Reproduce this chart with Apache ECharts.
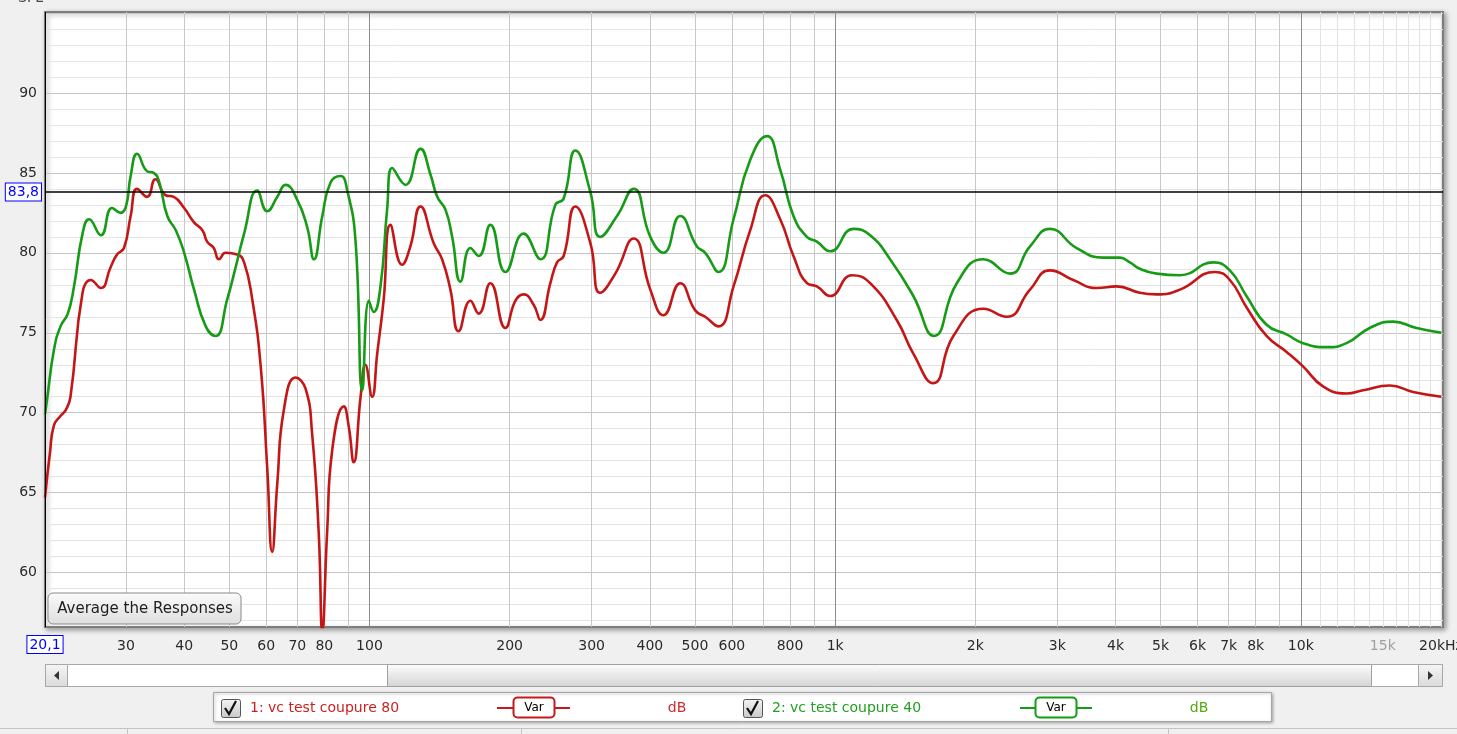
<!DOCTYPE html>
<html>
<head>
<meta charset="utf-8">
<script src="https://cdn.jsdelivr.net/npm/echarts@6/dist/echarts.min.js"></script>
<style>
html,body{margin:0;padding:0;background:#f0f0f0;}
#main{width:1457px;height:734px;}
</style>
</head>
<body>
<div id="main"></div>
<script>
// 1: vc test coupure 80 (red)
var redFreq = [20.1,20.6,21.0,21.7,22.3,22.8,24.2,25.2,26.5,27.8,28.7,29.7,30.7,31.7,33.3,34.7,36.5,38.0,40.0,42.0,
  43.8,44.8,46.3,47.5,49.1,52.0,53.8,56.0,58.4,60.3,61.8,63.4,65.5,69.4,72.9,75.3,77.8,79.2,81.1,83.2,
  88.1,90.3,92.5,95.7,98.0,101.3,103.9,107.3,110.9,117.5,122.4,128.7,137.4,143.2,149.2,155.4,164.7,171.6,181.8,195.8,
  205.7,214.3,225.2,232.8,244.6,252.8,261.2,276.8,298.1,313.1,337.2,369.2,400.9,428.0,464.9,500.7,526.0,561.7,605.1,656.9,
  707.6,762.1,813.8,869.8,913.7,975.7,1086,1189,1356,1472,1625,1794,2081,2336,2621,2893,3246,3644,4022,4512,
  4900,5501,6539,7041,7644,8442,9320,10110,11160,12540,13610,15520,17420,20040];
var redSpl = [64.7,67.5,69.2,69.8,70.2,71.0,77.5,78.3,77.8,79.1,79.9,80.3,82.3,84.0,83.5,84.6,83.6,83.5,82.8,81.9,
  81.4,80.7,80.3,79.6,80.0,79.9,79.4,77.1,72.9,66.6,61.3,65.6,70.2,72.2,71.5,68.7,62.5,56.3,62.5,67.7,
  70.4,69.1,66.9,71.0,73.0,71.0,73.7,77.1,81.75,79.25,80.4,82.9,80.6,79.6,77.7,75.1,77.0,76.2,78.1,75.3,
  77.0,77.4,76.75,75.8,78.1,79.4,79.8,82.9,80.6,77.5,78.7,80.9,77.7,76.1,78.1,76.4,76.0,75.4,77.9,81.4,
  83.6,82.1,79.8,78.1,77.9,77.3,78.6,78.1,75.8,73.7,71.85,74.8,76.5,76.0,77.7,78.9,78.3,77.8,77.9,77.5,
  77.4,77.7,78.8,78.3,76.6,74.8,73.8,72.9,71.65,71.2,71.4,71.7,71.3,71.0];

// 2: vc test coupure 40 (green)
var greenFreq = [20.1,20.3,21.0,21.7,22.5,23.2,24.2,25.0,26.5,28.0,29.2,30.0,30.7,31.7,33.3,34.4,35.3,36.8,38.4,40.0,
  42.0,44.5,46.7,49.5,51.6,53.8,57.4,60.3,63.4,66.0,70.0,73.5,76.0,79.2,82.5,86.7,89.6,93.3,96.5,99.7,
  102.1,105.6,109.1,111.9,119.5,128.7,135.2,139.8,145.6,150.5,156.8,164.7,171.6,181.8,195.8,214.3,232.8,250.7,261.2,276.8,
  298.1,313.1,340.0,369.2,400.9,428.0,464.9,504.9,526.0,561.7,605.1,656.9,713.5,762.1,813.8,869.8,913.7,975.7,1095,1189,
  1312,1472,1631,1825,2081,2374,2621,2893,3301,3765,4088,4295,4512,4901,5501,6484,7041,7644,8442,9320,
  10110,11360,12540,14060,15780,17720,20040];
var greenSpl = [69.9,70.8,73.9,75.4,76.2,77.9,81.2,82.1,81.1,82.8,82.5,82.9,84.8,86.2,85.1,85.0,84.5,82.3,81.4,80.0,
  77.7,75.4,74.8,77.1,79.1,81.2,83.9,82.6,83.5,84.25,83.3,81.6,79.6,82.3,84.4,84.8,83.9,80.8,71.4,77.0,
  76.3,77.9,82.7,85.3,84.25,86.5,84.9,83.5,82.7,81.0,78.2,80.3,79.8,81.75,78.8,81.2,79.6,83.0,83.4,86.4,
  83.8,81.0,82.3,84.0,81.0,80.0,82.3,80.4,80.0,78.8,82.1,85.8,87.3,85.2,82.3,81.0,80.7,80.1,81.5,81.1,
  79.6,77.3,74.8,78.1,79.6,78.7,80.4,81.5,80.3,79.7,79.7,79.4,79.0,78.7,78.6,79.4,78.9,77.3,75.5,74.9,
  74.35,74.1,74.35,75.3,75.7,75.3,75.0];

var yTicks = [60, 65, 70, 75, 80, 85, 90];
var xLabelValues = [30,40,50,60,70,80,100,200,300,400,500,600,800,1000,2000,3000,4000,5000,6000,7000,8000,10000,15000,20000];
var xLabelTexts = ['30','40','50','60','70','80','100','200','300','400','500','600','800','1k','2k','3k','4k','5k','6k','7k','8k','10k','15k','20kHz'];

var cursorLevel = 83.8;
var cursorFreq = 20.1;

var FONT = 'DejaVu Sans';

// grid lines
var gridLines = [];
for (var dB = 57; dB <= 95; dB++) {
  gridLines.push({yAxis: dB, lineStyle: {color: dB % 5 === 0 ? '#c4c4c4' : '#e4e4e4', width: 1, type: 'solid'}});
}
[10, 100, 1000].forEach(function (dec) {
  for (var m = 2; m <= 9; m++) {
    var f = m * dec;
    if (f < 20.1) continue;
    gridLines.push({xAxis: f, lineStyle: {color: '#c8c8c8', width: 1, type: 'solid'}});
  }
});
[100, 1000, 10000].forEach(function (f) {
  gridLines.push({xAxis: f, lineStyle: {color: '#8c8c8c', width: 1, type: 'solid'}});
});
for (var k = 11; k <= 20; k++) {
  gridLines.push({xAxis: k * 1000, lineStyle: {color: '#e2e2e2', width: 1, type: 'solid'}});
}

var xLabels = xLabelValues.map(function (v, i) {
  return {
    xAxis: v,
    lineStyle: {color: 'rgba(0,0,0,0)', width: 1, type: 'solid'},
    label: {
      show: true, position: 'start', distance: 12, formatter: xLabelTexts[i],
      color: v === 15000 ? '#a0a0a0' : '#2a2a2a', fontFamily: FONT, fontSize: 14
    }
  };
});

function toPairs(fr, sp) {
  return fr.map(function (f, i) { return [f, sp[i]]; });
}

var chart = echarts.init(document.getElementById('main'));

var grad = function (a, b) {
  return new echarts.graphic.LinearGradient(0, 0, 0, 1, [{offset: 0, color: a}, {offset: 1, color: b}]);
};

var option = {
  animation: false,
  backgroundColor: '#f0f0f0',
  grid: {
    left: 45, right: 14, top: 12, bottom: 107,
    show: true, backgroundColor: '#ffffff',
    borderColor: '#7d7d7d', borderWidth: 2,
    shadowColor: 'rgba(0,0,0,0.35)', shadowBlur: 5, shadowOffsetX: 2, shadowOffsetY: 2
  },
  xAxis: {
    type: 'log', logBase: 10, min: 20.1, max: 20200,
    axisLine: {show: false}, axisTick: {show: false}, axisLabel: {show: false}, splitLine: {show: false}
  },
  yAxis: {
    type: 'value', min: 56.6, max: 95.06,
    axisLine: {show: false}, axisTick: {show: false}, splitLine: {show: false},
    axisLabel: {customValues: yTicks, color: '#2a2a2a', fontFamily: FONT, fontSize: 14, margin: 8}
  },
  series: [
    {
      type: 'line', data: [], z: 1, silent: true,
      markLine: {z: 1, silent: true, symbol: ['none', 'none'], label: {show: false}, data: gridLines}
    },
    {
      type: 'line', data: [], z: 1, silent: true,
      markLine: {z: 1, silent: true, symbol: ['none', 'none'], data: xLabels}
    },
    {
      name: '1: vc test coupure 80', type: 'line', data: toPairs(redFreq, redSpl),
      smooth: 0.5, symbol: 'none', z: 10,
      lineStyle: {color: '#c41616', width: 2.6}
    },
    {
      name: '2: vc test coupure 40', type: 'line', data: toPairs(greenFreq, greenSpl),
      smooth: 0.5, symbol: 'none', z: 11,
      lineStyle: {color: '#169b16', width: 2.6}
    },
    {
      type: 'line', data: [], z: 12, silent: true,
      markLine: {
        z: 12, silent: true, symbol: ['none', 'none'],
        data: [
          {yAxis: cursorLevel, lineStyle: {color: '#000', width: 1.5, type: 'solid'},
           label: {show: true, position: 'start', distance: 4, formatter: '83,8', color: '#0000ff',
                   backgroundColor: '#fff', borderColor: '#0000ff', borderWidth: 1, padding: [2, 2, 1, 2],
                   fontFamily: FONT, fontSize: 14}},
          {xAxis: cursorFreq, lineStyle: {color: '#000', width: 1, type: 'solid'},
           label: {show: true, position: 'start', distance: 9, formatter: '20,1', color: '#0000ff',
                   backgroundColor: '#fff', borderColor: '#0000ff', borderWidth: 1, padding: [2, 2, 1, 2],
                   fontFamily: FONT, fontSize: 14}}
        ]
      }
    }
  ],
  graphic: [
    {type: 'text', left: 18, top: -9, style: {text: 'SPL', font: '14px ' + FONT, fill: '#444'}},
    // Average button
    {type: 'rect', z: 100, shape: {x: 48, y: 593, width: 193, height: 31, r: 5},
     style: {fill: grad('#fbfbfb', '#dedede'), stroke: '#8a8a8a', lineWidth: 1}},
    {type: 'text', z: 101, x: 145, y: 609,
     style: {text: 'Average the Responses', font: '15px ' + FONT, fill: '#1e1e1e', align: 'center', verticalAlign: 'middle'}},
    // scrollbar
    {type: 'rect', shape: {x: 45.5, y: 664.5, width: 1397, height: 22}, style: {fill: '#fff', stroke: '#a8a8a8'}},
    {type: 'rect', shape: {x: 45.5, y: 664.5, width: 22, height: 22}, style: {fill: grad('#f6f6f6', '#dadada'), stroke: '#a8a8a8'}},
    {type: 'polygon', shape: {points: [[59, 671], [59, 680], [54, 675.5]]}, style: {fill: '#333'}},
    {type: 'rect', shape: {x: 387.5, y: 664.5, width: 984, height: 22}, style: {fill: grad('#fdfdfd', '#d4d4d4'), stroke: '#a0a0a0'}},
    {type: 'rect', shape: {x: 1418.5, y: 664.5, width: 24, height: 22}, style: {fill: grad('#f6f6f6', '#dadada'), stroke: '#a8a8a8'}},
    {type: 'polygon', shape: {points: [[1428, 671], [1428, 680], [1433, 675.5]]}, style: {fill: '#333'}},
    // legend box
    {type: 'rect', shape: {x: 213.5, y: 692.5, width: 1058, height: 29},
     style: {fill: '#fff', stroke: '#a6a6a6', shadowColor: 'rgba(0,0,0,0.3)', shadowBlur: 3, shadowOffsetX: 1, shadowOffsetY: 1}},
    {type: 'rect', shape: {x: 221.5, y: 699.5, width: 19, height: 18, r: 2}, style: {fill: grad('#f4f4f4', '#c8c8c8'), stroke: '#555'}},
    {type: 'polyline', shape: {points: [[225, 708], [229, 714], [236, 701]]}, style: {stroke: '#111', lineWidth: 2.2, fill: null}},
    {type: 'text', x: 250, y: 708, style: {text: '1: vc test coupure 80', font: '14px ' + FONT, fill: '#cc1f1f', verticalAlign: 'middle'}},
    {type: 'line', shape: {x1: 497, y1: 708, x2: 570, y2: 708}, style: {stroke: '#c41a1a', lineWidth: 2}},
    {type: 'rect', shape: {x: 513.5, y: 697.5, width: 41, height: 20, r: 4}, style: {fill: '#fff', stroke: '#c41a1a', lineWidth: 2}},
    {type: 'text', x: 534, y: 708, style: {text: 'Var', font: '12px ' + FONT, fill: '#000', align: 'center', verticalAlign: 'middle'}},
    {type: 'text', x: 677, y: 708, style: {text: 'dB', font: '14px ' + FONT, fill: '#cc2a2a', align: 'center', verticalAlign: 'middle'}},
    {type: 'rect', shape: {x: 743.5, y: 699.5, width: 19, height: 18, r: 2}, style: {fill: grad('#f4f4f4', '#c8c8c8'), stroke: '#555'}},
    {type: 'polyline', shape: {points: [[747, 708], [751, 714], [758, 701]]}, style: {stroke: '#111', lineWidth: 2.2, fill: null}},
    {type: 'text', x: 772, y: 708, style: {text: '2: vc test coupure 40', font: '14px ' + FONT, fill: '#22a022', verticalAlign: 'middle'}},
    {type: 'line', shape: {x1: 1020, y1: 708, x2: 1092, y2: 708}, style: {stroke: '#169b16', lineWidth: 2}},
    {type: 'rect', shape: {x: 1035.5, y: 697.5, width: 41, height: 20, r: 4}, style: {fill: '#fff', stroke: '#169b16', lineWidth: 2}},
    {type: 'text', x: 1056, y: 708, style: {text: 'Var', font: '12px ' + FONT, fill: '#000', align: 'center', verticalAlign: 'middle'}},
    {type: 'text', x: 1199, y: 708, style: {text: 'dB', font: '14px ' + FONT, fill: '#52a810', align: 'center', verticalAlign: 'middle'}},
    // status bar
    {type: 'line', shape: {x1: 0, y1: 728.5, x2: 1457, y2: 728.5}, style: {stroke: '#c4c4c4'}},
    {type: 'line', shape: {x1: 127.5, y1: 729, x2: 127.5, y2: 734}, style: {stroke: '#c4c4c4'}},
    {type: 'line', shape: {x1: 521.5, y1: 729, x2: 521.5, y2: 734}, style: {stroke: '#c4c4c4'}},
    {type: 'line', shape: {x1: 1168.5, y1: 729, x2: 1168.5, y2: 734}, style: {stroke: '#c4c4c4'}}
  ]
};

chart.setOption(option);
</script>
</body>
</html>
